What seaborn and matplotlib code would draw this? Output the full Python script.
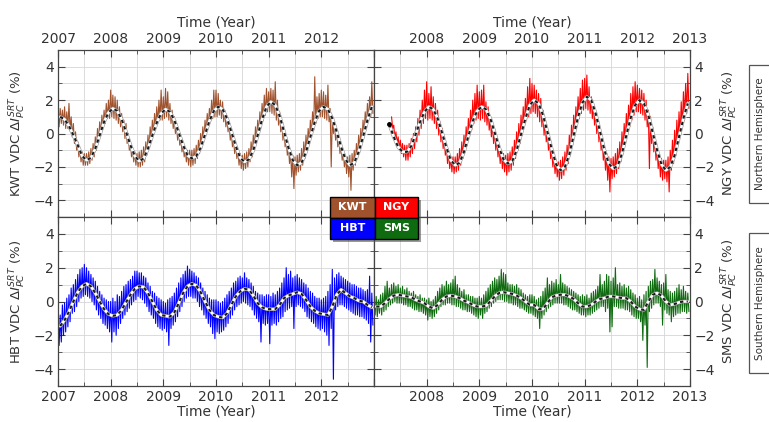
import numpy as np
import matplotlib
matplotlib.use("Agg")
import matplotlib.pyplot as plt
from matplotlib.patches import Rectangle
from matplotlib.ticker import MultipleLocator
import seaborn as sns

nan = np.nan

# semi-monthly upper / lower edges of the daily band (%), 2007-2012
kwt_hi = [1.8, 1.5, 1.4, 1.6, 1.3, 1.8, 1.0, 0.6, 0.1, -0.5, -0.9, -1.1, -1.2, -1.2, -1.1, -0.9, -0.6, -0.2, 0.3, 0.7, 1.1, 1.4, 1.8, 2.0,
          2.6, 2.3, 2.2, 2.0, 1.6, 1.2, 0.8, 0.6, 0.0, -0.5, -0.9, -1.1, -1.2, -1.1, -1.0, -0.8, -0.5, -0.1, 0.4, 0.8, 1.2, 1.6, 2.0, 2.6,
          2.2, 2.7, 2.5, 1.8, 1.4, 1.0, 0.6, 0.2, -0.3, -0.6, -0.9, -1.0, -1.0, -1.0, -0.9, -0.7, -0.4, 0.0, 0.4, 0.8, 1.2, 1.5, 2.0, 2.6,
          2.6, 2.4, 2.0, 1.9, 1.4, 0.9, 0.6, 0.1, -0.3, -0.6, -1.0, -1.2, -1.3, -1.2, -1.1, -0.9, -0.5, -0.1, 0.4, 0.8, 1.3, 1.8, 2.3, 2.7,
          2.5, 2.7, 2.6, 3.1, 2.0, 1.3, 0.7, 0.2, -0.3, -0.7, -1.1, -1.3, -1.4, -1.3, -1.2, -0.9, -0.5, -0.1, 0.3, 0.8, 1.3, 3.4, 2.2, 2.4,
          2.6, 2.5, 2.3, 2.9, 1.5, 1.0, 0.6, 0.2, -0.3, -0.7, -1.0, -1.3, -1.4, -1.3, -1.2, -1.0, -0.6, -0.1, 0.3, 0.8, 1.3, 1.8, 2.2, 3.1]
kwt_lo = [0.4, 0.6, 0.5, 0.3, 0.3, 0.2, -0.2, -0.6, -1.0, -1.4, -1.7, -1.9, -1.9, -1.9, -1.8, -1.6, -1.4, -1.0, -0.5, -0.1, 0.3, 0.6, 0.9, 0.9,
          1.0, 0.9, 0.8, 0.6, 0.4, 0.1, -0.3, -0.6, -1.0, -1.4, -1.7, -1.9, -2.0, -2.0, -1.9, -1.7, -1.3, -0.9, -0.5, -0.1, 0.3, 0.6, 0.8, 0.8,
          0.9, 1.0, 0.8, 0.6, 0.3, 0.0, -0.4, -0.7, -1.1, -1.4, -1.7, -1.9, -2.0, -1.9, -1.8, -1.5, -1.2, -0.8, -0.4, 0.0, 0.4, 0.7, 0.9, 1.0,
          1.0, 1.1, 0.9, 0.7, 0.4, 0.1, -0.4, -0.8, -1.2, -1.5, -1.9, -2.1, -2.2, -2.1, -2.0, -1.7, -1.4, -0.9, -0.5, 0.0, 0.4, 0.8, 1.1, 1.3,
          1.3, 1.2, 1.1, 0.8, 0.5, 0.1, -0.4, -0.8, -1.3, -1.8, -2.6, -3.3, -2.5, -2.3, -2.2, -1.9, -1.5, -1.0, -0.6, -0.2, 0.2, 0.6, 0.9, 1.0,
          1.0, 0.9, 0.8, 0.7, -2.0, 0.0, -0.4, -0.8, -1.2, -1.6, -2.0, -2.4, -2.6, -3.4, -2.2, -1.9, -1.5, -1.0, -0.6, -0.1, 0.3, 0.7, 1.0, 1.2]

ngy_hi = [nan] * 8 + [1.0, 0.5, 0.1, -0.2, -0.4, -0.6, -0.7, -0.7, -0.6, -0.3, 0.0, 0.4, 0.9, 1.4, 2.0, 2.6,
          3.1, 2.4, 2.8, 2.2, 1.8, 1.4, 0.7, 0.3, -0.2, -0.7, -1.1, -1.4, -1.4, -1.4, -1.2, -0.9, -0.5, -0.1, 0.4, 0.9, 1.4, 2.0, 2.4, 2.9,
          2.5, 2.6, 2.9, 1.9, 1.6, 1.0, 0.6, 0.2, -0.3, -0.7, -1.0, -1.2, -1.3, -1.2, -1.1, -0.8, -0.4, 0.1, 0.6, 1.1, 1.6, 2.1, 2.8, 3.3,
          3.0, 2.9, 2.6, 2.4, 2.1, 1.4, 0.9, 0.2, -0.4, -0.9, -1.3, -1.6, -1.7, -1.6, -1.4, -1.1, -0.7, -0.1, 0.5, 1.1, 1.6, 2.2, 2.7, 3.2,
          3.3, 3.5, 2.8, 2.2, 1.8, 1.3, 0.8, 0.2, -0.3, -0.9, -1.2, -1.4, -1.5, -1.4, -1.2, -0.9, -0.5, 0.1, 0.6, 1.2, 1.7, 2.4, 2.8, 3.1,
          2.9, 2.7, 2.6, 2.4, 2.0, 1.4, 1.0, 0.4, -0.3, -0.8, -1.2, -1.5, -1.6, -1.6, -1.4, -1.0, -0.4, 0.2, 0.8, 1.3, 1.9, 2.5, 3.0, 3.6]
ngy_lo = [nan] * 8 + [0.3, -0.3, -0.6, -0.9, -1.2, -1.4, -1.6, -1.6, -1.4, -1.2, -0.9, -0.5, -0.1, 0.3, 0.6, 0.9,
          0.8, 0.9, 0.8, 0.6, 0.3, -0.1, -0.5, -0.9, -1.3, -1.8, -2.1, -2.3, -2.4, -2.3, -2.2, -1.9, -1.5, -1.1, -0.7, -0.2, 0.2, 0.6, 0.8, 0.9,
          0.8, 0.9, 0.7, 0.5, 0.2, -0.2, -0.6, -1.0, -1.4, -1.8, -2.1, -2.3, -2.5, -2.3, -2.2, -1.9, -1.5, -1.0, -0.6, -0.1, 0.4, 0.8, 1.0, 1.2,
          1.3, 1.2, 1.0, 0.7, 0.4, -0.1, -0.5, -1.0, -1.5, -2.0, -2.4, -2.6, -2.8, -2.7, -2.5, -2.2, -1.8, -1.3, -0.7, -0.1, 0.5, 0.9, 1.2, 1.4,
          1.5, 1.4, 1.2, 0.9, 0.5, 0.0, -0.5, -1.0, -1.6, -2.2, -2.8, -3.5, -2.7, -2.6, -2.4, -2.1, -1.7, -1.2, -0.6, -0.1, 0.4, 0.8, 1.1, 1.3,
          1.3, 1.2, 1.1, 0.8, 0.4, -2.1, -0.6, -1.1, -1.6, -2.1, -2.6, -2.8, -2.7, -2.9, -3.5, -2.2, -1.8, -1.3, -0.7, -0.2, 0.3, 0.8, 1.2, 1.5]

hbt_hi = [-0.6, -0.8, -0.2, -0.1, 0.2, 0.4, 0.8, 1.0, 1.3, 1.6, 1.9, 2.0, 2.2, 2.0, 1.8, 1.6, 1.4, 1.2, 0.9, 0.6, 0.4, 0.2, 0.1, 0.0,
          0.0, 0.2, 0.0, 0.4, 0.3, 0.6, 0.9, 1.0, 1.2, 1.3, 1.5, 1.8, 1.8, 1.7, 1.7, 1.5, 1.4, 1.1, 0.9, 0.6, 0.5, 0.3, 0.2, 0.1,
          0.0, -0.1, 0.1, 0.2, 0.3, 0.5, 0.8, 1.1, 1.4, 1.6, 1.8, 2.1, 1.9, 1.8, 1.7, 1.5, 1.4, 1.1, 0.8, 0.6, 0.4, 0.2, 0.1, 0.1,
          0.1, 0.0, -0.1, 0.0, 0.2, 0.4, 0.6, 0.8, 1.1, 1.2, 1.4, 1.5, 1.4, 1.7, 1.4, 1.3, 1.1, 0.9, 0.6, 0.5, 0.4, 0.4, 0.3, 0.4,
          0.4, 0.3, 0.5, 0.4, 0.6, 0.8, 1.1, 1.4, 2.0, 1.6, 1.8, 1.4, 1.5, 1.6, 1.4, 1.3, 1.1, 1.0, 0.8, 0.6, 0.5, 0.3, 0.2, 0.2,
          0.1, 0.2, 0.3, 0.6, 1.0, 1.9, 1.4, 1.6, 1.7, 1.5, 1.4, 1.3, 1.2, 1.1, 1.0, 1.0, 0.9, 0.8, 0.8, 0.7, 0.6, 0.7, 1.5, 0.5]
hbt_lo = [-2.6, -2.4, -2.0, -1.8, -1.5, -1.2, -0.7, -0.6, -0.3, 0.0, 0.2, 0.3, 0.4, 0.3, 0.2, 0.0, -0.2, -0.5, -0.8, -1.0, -1.3, -1.4, -1.6, -1.8,
          -2.4, -1.8, -2.0, -1.6, -1.3, -1.0, -0.8, -0.6, -0.4, -0.2, 0.0, 0.1, 0.3, 0.2, 0.1, -0.1, -0.3, -0.6, -0.8, -1.0, -1.3, -1.5, -1.6, -1.7,
          -1.6, -1.8, -2.6, -1.6, -1.4, -1.2, -0.9, -0.6, -0.3, 0.0, 0.2, 0.3, 0.3, 0.2, 0.2, 0.0, -0.3, -0.5, -0.8, -1.0, -1.3, -1.5, -1.9, -2.2,
          -1.8, -1.9, -1.8, -1.7, -1.5, -1.3, -1.0, -0.8, -0.5, -0.3, -0.2, -0.1, 0.0, -0.1, -0.2, -0.3, -0.5, -0.8, -1.0, -1.2, -2.4, -1.3, -1.4, -1.3,
          -2.5, -1.4, -1.3, -1.4, -1.2, -1.0, -0.9, -0.6, -0.5, -0.4, -0.3, -1.6, -0.3, -0.2, -0.3, -0.4, -0.6, -0.9, -1.0, -1.2, -1.3, -1.5, -1.6, -1.7,
          -1.6, -1.8, -2.0, -2.6, -1.6, -4.6, -0.5, -0.3, -0.2, -0.2, -0.3, -0.4, -0.5, -0.6, -0.7, -0.8, -0.8, -0.9, -0.9, -1.0, -1.1, -1.3, -2.4, -1.4]

sms_hi = [0.2, 0.3, 0.1, 0.4, 0.5, 0.9, 1.2, 0.8, 1.0, 1.1, 0.9, 1.0, 0.8, 0.9, 0.7, 0.8, 0.6, 0.5, 0.6, 0.4, 0.3, 0.4, 0.2, 0.2,
          0.1, 0.2, 0.0, 0.1, 0.3, 0.6, 0.8, 1.0, 0.9, 1.2, 1.0, 1.1, 1.3, 1.5, 1.0, 0.8, 0.6, 0.7, 0.4, 0.4, 0.3, 0.3, 0.2, 0.2,
          0.3, 0.2, 0.4, 0.6, 0.8, 1.0, 1.2, 1.4, 1.3, 1.5, 1.9, 1.7, 1.6, 1.1, 1.0, 1.0, 0.9, 1.0, 0.8, 0.7, 0.5, 0.4, 0.3, 0.4,
          0.4, 0.3, 0.1, 0.2, 0.3, 0.6, 0.8, 1.4, 1.0, 1.2, 1.1, 1.3, 1.0, 1.6, 1.1, 1.0, 0.9, 0.8, 0.7, 0.6, 0.5, 0.4, 0.3, 0.4,
          0.3, 0.4, 0.2, 0.5, 0.6, 0.7, 0.9, 1.6, 1.0, 1.2, 1.6, 1.5, 1.2, 1.4, 2.0, 1.0, 1.1, 0.9, 1.0, 0.8, 0.9, 0.7, 0.5, 0.4,
          0.2, 0.3, 0.1, 0.4, 0.6, 0.9, 1.2, 1.3, 1.9, 1.4, 1.2, 1.0, 1.1, 1.6, 0.7, 0.6, 0.5, 0.6, 0.8, 1.0, 0.7, 0.9, 0.6, 0.5]
sms_lo = [-0.8, -0.9, -0.7, -0.8, -0.6, -0.5, -0.3, -0.2, -0.1, 0.0, -0.1, -0.1, -0.1, -0.2, -0.2, -0.3, -0.3, -0.4, -0.5, -0.5, -0.6, -0.6, -0.7, -0.8,
          -1.1, -0.9, -1.0, -0.9, -0.7, -0.5, -0.3, -0.2, -0.2, -0.1, -0.1, -0.2, -0.2, -0.3, -0.3, -0.4, -0.5, -0.5, -0.6, -0.6, -0.7, -0.8, -0.9, -1.0,
          -0.8, -1.0, -0.7, -0.6, -0.4, -0.3, -0.1, 0.0, 0.1, 0.1, 0.1, 0.0, 0.0, -0.1, -0.1, -0.2, -0.2, -0.3, -0.4, -0.4, -0.5, -0.6, -0.7, -0.7,
          -0.8, -0.9, -1.0, -1.6, -1.0, -0.8, -0.6, -0.4, -0.3, -0.2, -0.1, -0.1, -0.1, -0.1, -0.2, -0.2, -0.3, -0.4, -0.5, -0.5, -0.6, -0.7, -0.8, -0.8,
          -0.9, -0.8, -0.8, -0.7, -0.6, -0.5, -0.4, -0.3, -0.3, -0.6, -0.4, -1.8, -1.5, -0.3, -0.3, -0.4, -0.4, -0.4, -0.5, -0.5, -0.6, -0.8, -0.9, -1.0,
          -1.0, -1.2, -2.3, -1.4, -3.9, -0.6, -0.4, -0.2, -0.1, -0.1, -0.3, -1.4, -0.5, -0.7, -0.8, -1.2, -0.9, -0.8, -0.7, -0.7, -0.6, -0.6, -0.7, -0.6]

# monthly values of the fitted seasonal curve
kwt_fit = [1.0, 0.85, 0.45, -0.1, -0.7, -1.35, -1.6, -1.45, -0.9, -0.1, 0.7, 1.25,
           1.5, 1.35, 0.85, 0.1, -0.7, -1.35, -1.65, -1.5, -0.9, -0.1, 0.65, 1.2,
           1.45, 1.3, 0.8, 0.05, -0.7, -1.3, -1.5, -1.35, -0.85, -0.05, 0.75, 1.35,
           1.6, 1.45, 0.9, 0.1, -0.75, -1.45, -1.7, -1.55, -1.0, -0.1, 0.85, 1.6,
           1.9, 1.7, 1.05, 0.1, -0.85, -1.6, -1.9, -1.75, -1.1, -0.2, 0.7, 1.35,
           1.6, 1.45, 0.9, 0.1, -0.8, -1.55, -1.9, -1.75, -1.1, -0.2, 0.8, 1.6]
ngy_fit = [nan, nan, nan, 0.55, -0.2, -0.8, -1.1, -1.1, -0.75, -0.05, 0.7, 1.3,
           1.6, 1.45, 0.9, 0.05, -0.85, -1.6, -1.9, -1.75, -1.1, -0.15, 0.75, 1.35,
           1.6, 1.45, 0.9, 0.05, -0.85, -1.55, -1.8, -1.65, -1.0, -0.05, 0.9, 1.7,
           2.0, 1.8, 1.1, 0.1, -0.95, -1.85, -2.2, -2.0, -1.25, -0.1, 1.0, 1.85,
           2.2, 2.0, 1.2, 0.1, -1.0, -1.8, -2.1, -1.95, -1.2, -0.1, 0.95, 1.7,
           2.0, 1.8, 1.1, 0.05, -1.0, -1.85, -2.2, -2.0, -1.3, -0.2, 0.9, 1.8]
hbt_fit = [-1.45, -1.1, -0.6, 0.0, 0.55, 0.9, 1.05, 0.9, 0.5, 0.0, -0.45, -0.75,
           -0.85, -0.8, -0.5, -0.05, 0.4, 0.75, 0.9, 0.85, 0.5, 0.0, -0.5, -0.8,
           -0.85, -0.9, -0.65, -0.1, 0.5, 0.9, 1.05, 0.95, 0.55, 0.0, -0.5, -0.8,
           -0.9, -0.95, -0.7, -0.2, 0.3, 0.6, 0.75, 0.7, 0.35, -0.1, -0.35, -0.45,
           -0.45, -0.45, -0.2, 0.2, 0.35, 0.45, 0.55, 0.45, 0.1, -0.3, -0.55, -0.7,
           -0.75, -0.8, -0.3, 0.4, 0.7, 0.5, 0.3, 0.2, 0.05, 0.0, -0.2, -0.35]
sms_fit = [-0.3, -0.3, -0.1, 0.15, 0.35, 0.4, 0.35, 0.3, 0.25, 0.1, 0.0, -0.1,
           -0.3, -0.4, -0.2, 0.1, 0.3, 0.35, 0.3, 0.2, 0.05, -0.05, -0.2, -0.3,
           -0.3, -0.25, 0.0, 0.3, 0.5, 0.55, 0.5, 0.45, 0.35, 0.2, 0.0, -0.2,
           -0.2, -0.45, -0.45, -0.1, 0.25, 0.35, 0.4, 0.4, 0.3, 0.15, -0.1, -0.3,
           -0.3, -0.2, 0.0, 0.15, 0.2, 0.3, 0.3, 0.25, 0.2, 0.2, 0.0, -0.3,
           -0.45, -0.5, 0.0, 0.4, 0.5, 0.35, 0.0, -0.2, -0.15, -0.05, 0.0, 0.0]

stations = ["KWT", "NGY", "HBT", "SMS"]
colors = {"KWT": "#a0522d", "NGY": "#ff0000", "HBT": "#0000ff", "SMS": "#0f6b0f"}
years = [2007, 2008, 2009, 2010, 2011, 2012, 2013]

band = {"KWT": (kwt_hi, kwt_lo), "NGY": (ngy_hi, ngy_lo),
        "HBT": (hbt_hi, hbt_lo), "SMS": (sms_hi, sms_lo)}
fits = {"KWT": kwt_fit, "NGY": ngy_fit, "HBT": hbt_fit, "SMS": sms_fit}

# time axes (decimal year)
t_half = 2007 + np.arange(144) / 24.0
t_month = 2007 + (np.arange(72) + 0.5) / 12.0

sns.set_style("white")
plt.rcParams["font.family"] = ["DejaVu Sans"]
plt.rcParams["mathtext.fontset"] = "dejavusans"

W, H = 769, 422
fig = plt.figure(figsize=(W / 100, H / 100), dpi=100)

def rect(x0, y0, x1, y1):
    return [x0 / W, 1 - y1 / H, (x1 - x0) / W, (y1 - y0) / H]

boxes = {"KWT": rect(58, 50, 374, 217), "NGY": rect(374, 50, 690, 217),
         "HBT": rect(58, 217, 374, 386), "SMS": rect(374, 217, 690, 386)}

txt = "#333333"
for st in stations:
    ax = fig.add_axes(boxes[st])
    top = st in ("KWT", "NGY")
    left = st in ("KWT", "HBT")
    hi, lo = band[st]
    tz = np.column_stack([t_half, t_half + 1 / 48.0]).ravel()
    vz = np.column_stack([hi, lo]).ravel()
    sns.lineplot(x=tz, y=vz, color=colors[st], lw=0.8, ax=ax,
                 estimator=None, sort=False)
    sns.lineplot(x=t_month, y=fits[st], color="#8f8f8f", lw=2.6, ax=ax,
                 estimator=None, sort=False)
    sns.lineplot(x=t_month, y=fits[st], color="white", lw=1.8, ax=ax,
                 estimator=None, sort=False)
    sns.lineplot(x=t_month, y=fits[st], color="#1a1a1a", lw=1.5, ax=ax,
                 estimator=None, sort=False, linestyle=(0, (1.6, 1.6)))
    if st == "NGY":
        ax.plot([t_month[3]], [ngy_fit[3]], "o", color="black", ms=2.5)

    ax.set_xlim(2007, 2013)
    ax.set_ylim(-5, 5)
    ax.set_xticks(years)
    ax.xaxis.set_minor_locator(MultipleLocator(0.5))
    ax.set_yticks([-4, -2, 0, 2, 4])
    ax.yaxis.set_minor_locator(MultipleLocator(1))
    labels = [str(y) for y in years]
    if left:
        labels[-1] = ""
    else:
        labels[0] = ""
    ax.set_xticklabels(labels)
    ax.grid(which="both", color="#d6d6d6", lw=0.6)
    ax.set_axisbelow(True)
    for s in ax.spines.values():
        s.set_color("#444444")
        s.set_linewidth(0.9)
    ax.tick_params(which="both", direction="in", top=True, bottom=True,
                   left=True, right=True, colors="#444444",
                   labelcolor=txt, labelsize=10,
                   labeltop=top, labelbottom=not top,
                   labelleft=left, labelright=not left)
    ax.tick_params(which="major", length=5, pad=3)
    ax.tick_params(which="minor", length=3)
    ax.set_xlabel("Time (Year)", fontsize=10, color=txt,
                  labelpad=4 if top else 0)
    if top:
        ax.xaxis.set_label_position("top")
    ax.set_ylabel(st + r" VDC $\Delta I_{PC}^{SRT}$ (%)", fontsize=9.5,
                  color=txt, labelpad=4)
    if not left:
        ax.yaxis.set_label_position("right")
        ax.yaxis.label.set_rotation(90)

# station colour key in the middle
kx0, kx1, kx2 = 330, 375, 418
ky0, ky1, ky2 = 197, 218, 239
cells = [("KWT", kx0, ky0, kx1, ky1), ("NGY", kx1, ky0, kx2, ky1),
         ("HBT", kx0, ky1, kx1, ky2), ("SMS", kx1, ky1, kx2, ky2)]
fig.patches.append(Rectangle(((kx0 + 3) / W, 1 - (ky2 + 3) / H),
                             (kx2 - kx0) / W, (ky2 - ky0) / H,
                             transform=fig.transFigure, facecolor="#555555",
                             alpha=0.6, edgecolor="none", zorder=9))
for st, x0, y0, x1, y1 in cells:
    fig.patches.append(Rectangle((x0 / W, 1 - y1 / H), (x1 - x0) / W, (y1 - y0) / H,
                                 transform=fig.transFigure, facecolor=colors[st],
                                 edgecolor="black", lw=1.0, zorder=10))
    fig.text((x0 + x1) / 2 / W, 1 - (y0 + y1) / 2 / H, st, color="white",
             fontsize=8, fontweight="bold", ha="center", va="center", zorder=11)

# hemisphere boxes on the right
for name, y0, y1 in [("Northern Hemisphere", 65, 203), ("Southern Hemisphere", 233, 373)]:
    fig.patches.append(Rectangle((749 / W, 1 - y1 / H), 30 / W, (y1 - y0) / H,
                                 transform=fig.transFigure, facecolor="white",
                                 edgecolor="#555555", lw=0.9))
    fig.text(760 / W, 1 - (y0 + y1) / 2 / H, name, rotation=90, color=txt,
             fontsize=7.5, ha="center", va="center")

fig.savefig("out.png", dpi=100)
